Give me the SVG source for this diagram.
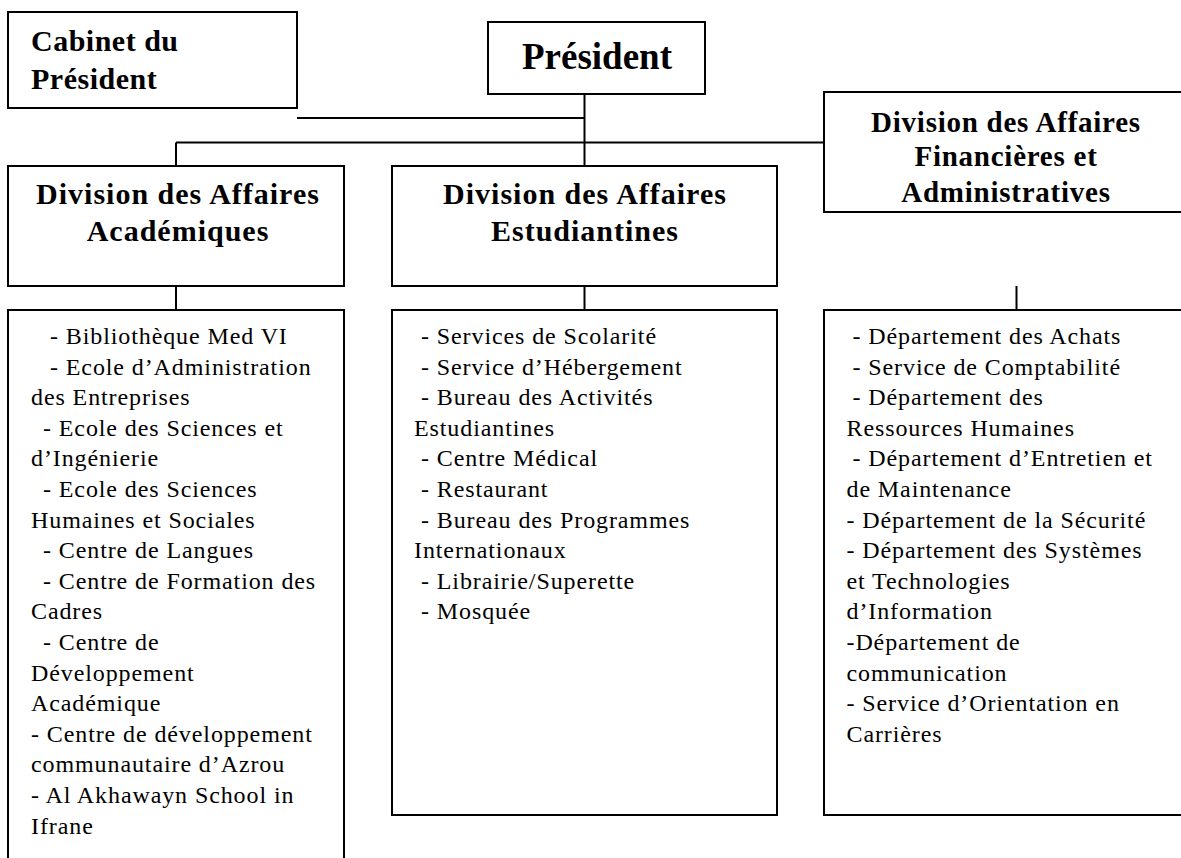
<svg xmlns="http://www.w3.org/2000/svg" width="1181" height="858" viewBox="0 0 1181 858">
<style>
.box{fill:#fff;stroke:#000;stroke-width:2}
.ln{stroke:#000;stroke-width:2;fill:none}
.hd{font-family:"Liberation Serif","Times New Roman",serif;font-weight:bold;font-size:30px;letter-spacing:1px;fill:#000}
.hc{text-anchor:middle}
.it{font-family:"Liberation Serif","Times New Roman",serif;font-size:24px;letter-spacing:0.9px;fill:#000}
</style>
<rect width="1181" height="858" fill="#fff"/>
<g id="connectors">
<line class="ln" x1="584.5" y1="94" x2="584.5" y2="166"/>
<line class="ln" x1="297" y1="118" x2="584.5" y2="118"/>
<line class="ln" x1="176" y1="142.5" x2="824" y2="142.5"/>
<line class="ln" x1="176" y1="142.5" x2="176" y2="166"/>
<line class="ln" x1="176" y1="286" x2="176" y2="310"/>
<line class="ln" x1="584.5" y1="286" x2="584.5" y2="310"/>
<line class="ln" x1="1016.5" y1="286" x2="1016.5" y2="310"/>
</g>
<g id="cabinet">
<rect class="box" x="8" y="12" width="289" height="96"/>
<text class="hd" x="31" y="50.5" style="letter-spacing:0.5px">Cabinet du</text>
<text class="hd" x="31" y="88.5" style="letter-spacing:0.5px">Président</text>
</g>
<g id="president">
<rect class="box" x="488" y="22" width="217" height="72"/>
<text class="hd hc" x="597" y="68.5" style="font-size:37px;letter-spacing:0">Président</text>
</g>
<g id="div-fin">
<rect class="box" x="824" y="92" width="366" height="120"/>
<text class="hd hc" x="1006" y="131.5" style="font-size:29px;letter-spacing:0.75px">Division des Affaires</text>
<text class="hd hc" x="1006" y="166" style="font-size:29px;letter-spacing:0.75px">Financières et</text>
<text class="hd hc" x="1006" y="201.5" style="font-size:29px;letter-spacing:0.75px">Administratives</text>
</g>
<g id="div-acad">
<rect class="box" x="8" y="166" width="336" height="120"/>
<text class="hd hc" x="178" y="204">Division des Affaires</text>
<text class="hd hc" x="178" y="240.5">Académiques</text>
</g>
<g id="div-estud">
<rect class="box" x="392" y="166" width="385" height="120"/>
<text class="hd hc" x="585" y="204">Division des Affaires</text>
<text class="hd hc" x="585" y="240.5">Estudiantines</text>
</g>
<g id="list-acad">
<rect class="box" x="8" y="310" width="336" height="580"/>
<text class="it" x="50" y="344">- Bibliothèque Med VI</text>
<text class="it" x="50" y="374.6">- Ecole d’Administration</text>
<text class="it" x="31" y="405.2">des Entreprises</text>
<text class="it" x="43" y="435.8">- Ecole des Sciences et</text>
<text class="it" x="31" y="466.4">d’Ingénierie</text>
<text class="it" x="43" y="497">- Ecole des Sciences</text>
<text class="it" x="31" y="527.6">Humaines et Sociales</text>
<text class="it" x="43" y="558.2">- Centre de Langues</text>
<text class="it" x="43" y="588.8">- Centre de Formation des</text>
<text class="it" x="31" y="619.4">Cadres</text>
<text class="it" x="43" y="650">- Centre de</text>
<text class="it" x="31" y="680.6">Développement</text>
<text class="it" x="31" y="711.2">Académique</text>
<text class="it" x="31" y="741.8">- Centre de développement</text>
<text class="it" x="31" y="772.4">communautaire d’Azrou</text>
<text class="it" x="31" y="803">- Al Akhawayn School in</text>
<text class="it" x="31" y="833.6">Ifrane</text>
</g>
<g id="list-estud">
<rect class="box" x="392" y="310" width="385" height="505"/>
<text class="it" x="421" y="344">- Services de Scolarité</text>
<text class="it" x="421" y="374.6">- Service d’Hébergement</text>
<text class="it" x="421" y="405.2">- Bureau des Activités</text>
<text class="it" x="414" y="435.8">Estudiantines</text>
<text class="it" x="421" y="466.4">- Centre Médical</text>
<text class="it" x="421" y="497">- Restaurant</text>
<text class="it" x="421" y="527.6">- Bureau des Programmes</text>
<text class="it" x="414" y="558.2">Internationaux</text>
<text class="it" x="421" y="588.8">- Librairie/Superette</text>
<text class="it" x="421" y="619.4">- Mosquée</text>
</g>
<g id="list-fin">
<rect class="box" x="824" y="310" width="366" height="505"/>
<text class="it" x="852.5" y="344">- Département des Achats</text>
<text class="it" x="852.5" y="374.6">- Service de Comptabilité</text>
<text class="it" x="852.5" y="405.2">- Département des</text>
<text class="it" x="846.5" y="435.8">Ressources Humaines</text>
<text class="it" x="852.5" y="466.4">- Département d’Entretien et</text>
<text class="it" x="846.5" y="497">de Maintenance</text>
<text class="it" x="846.5" y="527.6">- Département de la Sécurité</text>
<text class="it" x="846.5" y="558.2">- Département des Systèmes</text>
<text class="it" x="846.5" y="588.8">et Technologies</text>
<text class="it" x="846.5" y="619.4">d’Information</text>
<text class="it" x="846.5" y="650">-Département de</text>
<text class="it" x="846.5" y="680.6">communication</text>
<text class="it" x="846.5" y="711.2">- Service d’Orientation en</text>
<text class="it" x="846.5" y="741.8">Carrières</text>
</g>
</svg>
